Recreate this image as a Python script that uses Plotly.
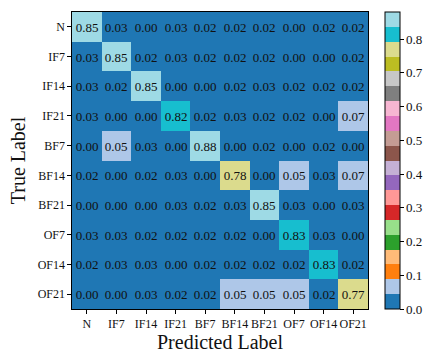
"""Confusion matrix heatmap with a discrete tab20 colour scale."""

import plotly.graph_objects as go

LABELS = ["N", "IF7", "IF14", "IF21", "BF7", "BF14", "BF21", "OF7", "OF14", "OF21"]

# rows = true label, columns = predicted label
MATRIX = [
    [0.85, 0.03, 0.00, 0.03, 0.02, 0.02, 0.02, 0.00, 0.02, 0.02],
    [0.03, 0.85, 0.02, 0.03, 0.02, 0.02, 0.02, 0.00, 0.00, 0.02],
    [0.03, 0.02, 0.85, 0.00, 0.00, 0.02, 0.03, 0.02, 0.02, 0.02],
    [0.03, 0.00, 0.00, 0.82, 0.02, 0.03, 0.02, 0.02, 0.00, 0.07],
    [0.00, 0.05, 0.03, 0.00, 0.88, 0.00, 0.02, 0.00, 0.02, 0.00],
    [0.02, 0.00, 0.02, 0.03, 0.00, 0.78, 0.00, 0.05, 0.03, 0.07],
    [0.00, 0.00, 0.00, 0.03, 0.02, 0.03, 0.85, 0.03, 0.00, 0.03],
    [0.03, 0.03, 0.02, 0.02, 0.02, 0.02, 0.00, 0.83, 0.03, 0.00],
    [0.02, 0.03, 0.03, 0.00, 0.02, 0.02, 0.02, 0.02, 0.83, 0.02],
    [0.00, 0.00, 0.03, 0.02, 0.02, 0.05, 0.05, 0.05, 0.02, 0.77],
]

CBAR_TICKS = [0.0, 0.1, 0.2, 0.3, 0.4, 0.5, 0.6, 0.7, 0.8]

TAB20 = [
    "#1f77b4", "#aec7e8", "#ff7f0e", "#ffbb78", "#2ca02c", "#98df8a",
    "#d62728", "#ff9896", "#9467bd", "#c5b0d5", "#8c564b", "#c49c94",
    "#e377c2", "#f7b6d2", "#7f7f7f", "#c7c7c7", "#bcbd22", "#dbdb8d",
    "#17becf", "#9edae5",
]

FONT = "Liberation Serif"


def _stepped_scale(colors):
    """Turn a list of colours into a hard-edged plotly colorscale."""
    n = len(colors)
    scale = []
    for i, c in enumerate(colors):
        scale.append([i / n, c])
        scale.append([(i + 1) / n, c])
    return scale


zmax = max(max(row) for row in MATRIX)

fig = go.Figure(go.Heatmap(
    z=MATRIX,
    x=LABELS,
    y=LABELS,
    zmin=0,
    zmax=zmax,
    colorscale=_stepped_scale(TAB20),
    texttemplate="%{z:.2f}",
    textfont=dict(family=FONT, size=13, color="#111111"),
    hoverinfo="skip",
    colorbar=dict(
        x=(388 - 72) / 299, xanchor="left",
        y=0.5, yanchor="middle",
        len=1, lenmode="fraction", ypad=0, xpad=0,
        thickness=15,
        outlinecolor="black", outlinewidth=1,
        tickvals=CBAR_TICKS, tickformat=".1f",
        ticks="outside", ticklen=3.5, tickcolor="black",
        tickfont=dict(family=FONT, size=13, color="#111111"),
    ),
))

axis_common = dict(
    showline=True, mirror=True, linecolor="black", linewidth=1.2,
    ticks="outside", ticklen=3.5, tickcolor="black",
    tickfont=dict(family=FONT, size=12, color="#111111"),
    showgrid=False, zeroline=False, automargin=False,
)

fig.update_layout(
    width=436, height=358,
    margin=dict(l=72, r=65, t=12, b=49),
    paper_bgcolor="white", plot_bgcolor="white",
    font=dict(family=FONT, color="#111111"),
    xaxis=dict(
        **axis_common,
        title=dict(text="Predicted Label", font=dict(family=FONT, size=20), standoff=4),
    ),
    yaxis=dict(
        **axis_common,
        autorange="reversed",
        title=dict(text="True Label", font=dict(family=FONT, size=20), standoff=6),
    ),
)

# drop the browser's default 8px body margin so the figure fills the window
fig.write_html(
    "out.html",
    config={"displayModeBar": False},
    post_script="document.body.style.margin='0';",
)
